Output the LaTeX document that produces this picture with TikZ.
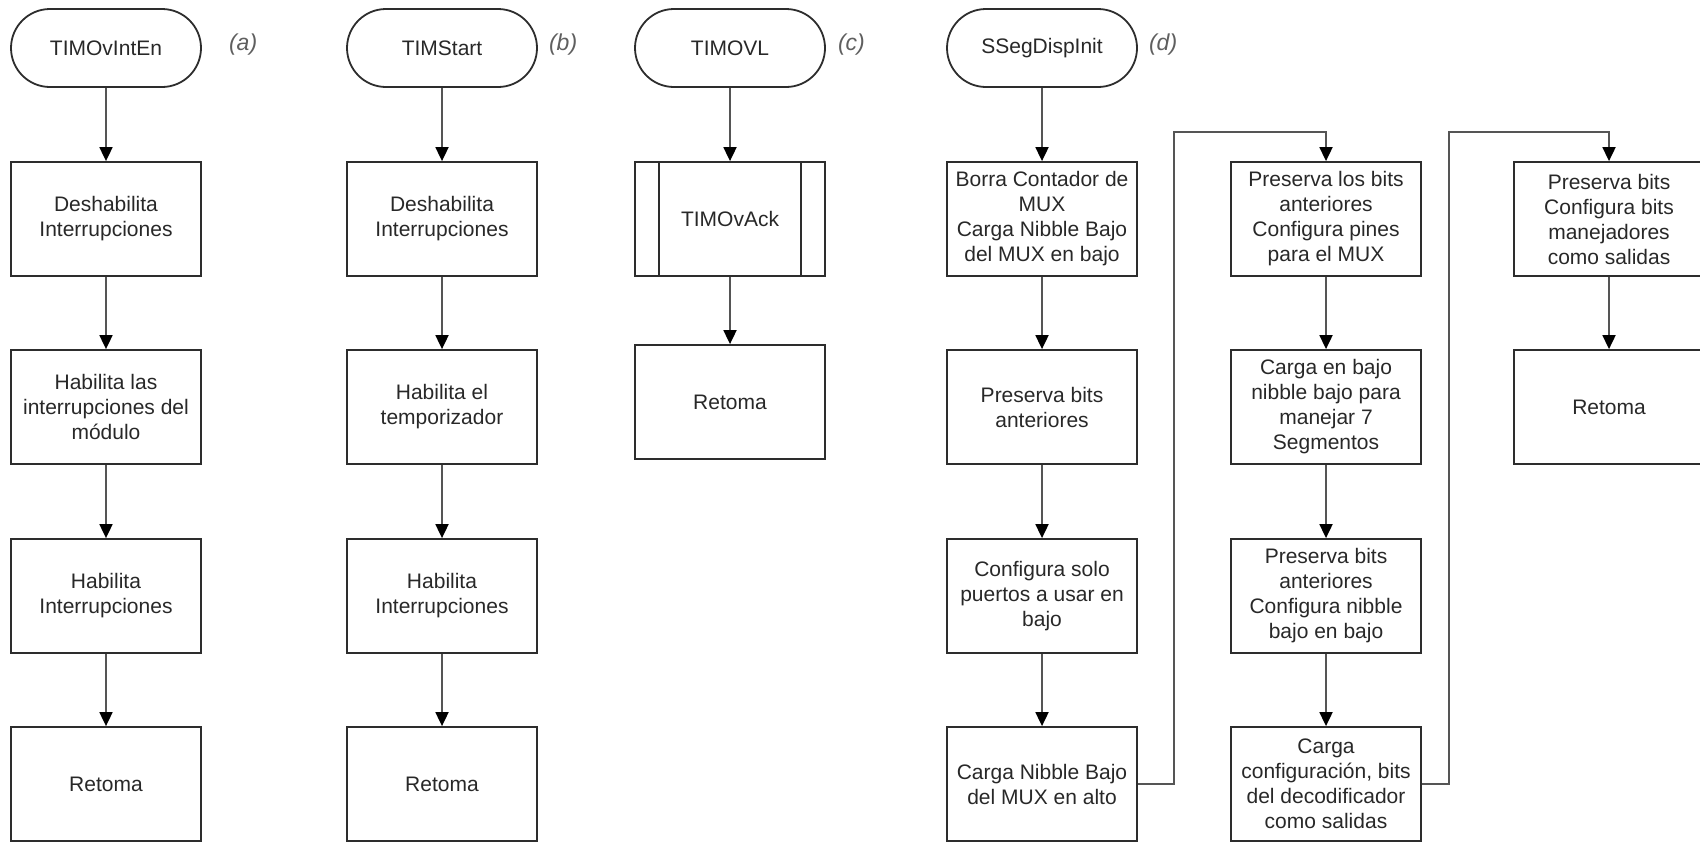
\documentclass[tikz,border=0pt]{standalone}
\usepackage{fontspec}
\setmainfont{Liberation Sans}
\usetikzlibrary{arrows.meta}
\definecolor{boxline}{RGB}{45,45,45}
\definecolor{flowgray}{RGB}{85,85,85}
\definecolor{txtgray}{RGB}{40,40,40}
\definecolor{taggray}{RGB}{95,95,95}

\begin{document}
\begin{tikzpicture}[x=0.5pt, y=-0.5pt,
    every node/.style={font=\fontsize{10.5pt}{12.5pt}\selectfont, text=txtgray},
    proc/.style={draw=boxline, line width=0.9pt, minimum width=95pt, minimum height=57pt, inner sep=0pt, align=center},
    term/.style={proc, minimum height=39pt, rounded corners=19.5pt},
    subproc/.style={proc, path picture={
        \draw[boxline, line width=0.9pt]
            ([xshift=12pt]path picture bounding box.north west) -- ([xshift=12pt]path picture bounding box.south west)
            ([xshift=-12pt]path picture bounding box.north east) -- ([xshift=-12pt]path picture bounding box.south east);}},
    flow/.style={draw=flowgray, line width=0.9pt, -{Triangle[length=7pt, width=6.5pt, color=black]}},
    tag/.style={font=\fontsize{11.5pt}{13pt}\selectfont\itshape, text=taggray, anchor=west}]
    \useasboundingbox (0,0) rectangle (1700,842);

    % (a) TIMOvIntEn
    \node[term] (ta) at (106,48) {TIMOvIntEn};
    \node[tag] (tga) at (222,45) {(a)};
    \node[proc] (a1) at (106,219) {Deshabilita\\Interrupciones};
    \node[proc] (a2) at (106,407) {Habilita las\\interrupciones del\\módulo};
    \node[proc] (a3) at (106,596) {Habilita\\Interrupciones};
    \node[proc] (a4) at (106,784) {Retoma};

    % (b) TIMStart
    \node[term] (tb) at (442,48) {TIMStart};
    \node[tag] (tgb) at (542,45) {(b)};
    \node[proc] (b1) at (442,219) {Deshabilita\\Interrupciones};
    \node[proc] (b2) at (442,407) {Habilita el\\temporizador};
    \node[proc] (b3) at (442,596) {Habilita\\Interrupciones};
    \node[proc] (b4) at (442,784) {Retoma};

    % (c) TIMOVL
    \node[term] (tc) at (730,48) {TIMOVL};
    \node[tag] (tgc) at (831,45) {(c)};
    \node[subproc] (c1) at (730,219) {TIMOvAck};
    \node[proc] (c2) at (730,402) {Retoma};

    % (d) SSegDispInit
    \node[term] (td) at (1042,48) {SSegDispInit};
    \node[tag] (tgd) at (1142,45) {(d)};
    \node[proc] (d1) at (1042,219) {Borra Contador de\\MUX\\Carga Nibble Bajo\\del MUX en bajo};
    \node[proc] (d2) at (1042,407) {Preserva bits\\anteriores};
    \node[proc] (d3) at (1042,596) {Configura solo\\puertos a usar en\\bajo};
    \node[proc] (d4) at (1042,784) {Carga Nibble Bajo\\del MUX en alto};

    \node[proc] (e1) at (1326,219) {Preserva los bits\\anteriores\\Configura pines\\para el MUX};
    \node[proc] (e2) at (1326,407) {Carga en bajo\\nibble bajo para\\manejar 7\\Segmentos};
    \node[proc] (e3) at (1326,596) {Preserva bits\\anteriores\\Configura nibble\\bajo en bajo};
    \node[proc] (e4) at (1326,784) {Carga\\configuración, bits\\del decodificador\\como salidas};

    \node[proc] (f1) at (1609,219) {Preserva bits\\Configura bits\\manejadores\\como salidas};
    \node[proc] (f2) at (1609,407) {Retoma};

    % Flow
    \foreach \u/\v in {ta/a1, a1/a2, a2/a3, a3/a4, tb/b1, b1/b2, b2/b3, b3/b4,
                       tc/c1, c1/c2, td/d1, d1/d2, d2/d3, d3/d4,
                       e1/e2, e2/e3, e3/e4, f1/f2} {
        \draw[flow] (\u) -- (\v);
    }
    \draw[flow] (d4.east) -- ++(36,0) |- ([yshift=14.5pt]e1.north) -- (e1.north);
    \draw[flow] (e4.east) -- ++(27,0) |- ([yshift=14.5pt]f1.north) -- (f1.north);
\end{tikzpicture}
\end{document}
